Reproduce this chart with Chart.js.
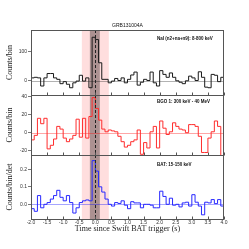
<!DOCTYPE html>
<html><head><meta charset="utf-8">
<script src="https://cdn.jsdelivr.net/npm/chart.js@4"></script>
<style>html,body{margin:0;padding:0;background:#fff}#wrap{width:249px;height:249px;position:relative}</style>
</head><body><div id="wrap"><canvas id="c" width="249" height="249"></canvas></div>
<script>
// ---- data ----
const binStart = -2.0;
const binWidth = 0.1;
const naiCounts = [10,12,10,-18,10,25,25,10,5,-10,-3,-12,-24,-7,-1,19,-1,10,-24,150,
  142,62,5,5,-7,-1,8,1,10,-7,5,20,30,-15,-5,5,1,30,-7,-18,
  35,22,12,27,12,0,-5,-10,0,16,10,1,31,12,-22,-24,22,19,-3,12];
const bgoCounts = [-8,-3,16,10,16,-18,-14,-7,7,4,-6,-10,-7,-3,15,-5,16,-6,18,39,
  27,14,4,1,3,2,1,-4,-10,-16,-14,-10,-8,3,-24,-11,-17,1,7,-17,
  13,5,-2,1,11,7,4,3,0,9,9,7,-4,-22,-22,-6,1,13,7,-26];
const batRate = [-0.025,-0.04,0.05,-0.02,0.0,0.01,0.03,0.05,0.08,0.04,
  0.02,0.05,0.01,-0.05,-0.02,0.01,0.02,0.025,0.02,0.25,
  0.19,0.1,0.07,0.03,0.0,-0.01,0.01,0.005,0.02,-0.005,
  -0.025,0.015,0.008,0.008,-0.02,0.0,0.0,-0.005,-0.02,-0.02,
  0.075,0.045,0.0,0.035,-0.005,0.0,-0.015,0.008,0.012,-0.01,
  0.055,0.012,-0.01,-0.06,0.012,0.008,0.027,0.004,0.027,-0.01];
const xTicks = [-2.0,-1.5,-1.0,-0.5,0.0,0.5,1.0,1.5,2.0,2.5,3.0,3.5,4.0];
const naiTicks = [0,100];
const bgoTicks = [-20,0,20,40];
const batTicks = [0.0,0.1,0.2];
const pinkWindow = [-0.42,0.42];
const darkWindow = [-0.17,0.14];
const titleText = 'GRB131004A';
const naiLabel = 'NaI (n2+na+n9): 8-800 keV';
const bgoLabel = 'BGO 1: 300 keV - 40 MeV';
const batLabel = 'BAT: 15-150 keV';

function stepPoints(vals){
  const pts = vals.map((v,i)=>({x: binStart + i*binWidth, y: v}));
  pts.push({x: binStart + vals.length*binWidth, y: vals[vals.length-1]});
  return pts;
}

const serif = "'Liberation Serif','DejaVu Serif',serif";
const sans = "'Liberation Sans','DejaVu Sans',sans-serif";

function yScale(min,max,weight,ticks,title,fmt){
  return {
    type:'linear', position:'left', stack:'v', stackWeight:weight, min:min, max:max,
    afterBuildTicks: s => { s.ticks = ticks.map(v=>({value:v})); },
    afterFit: s => { s.width = 31; s.paddingTop = 0; s.paddingBottom = 0; },
    grid:{display:true, drawOnChartArea:false, drawTicks:true, tickLength:3, color:'#555', lineWidth:0.8},
    border:{display:false},
    ticks:{font:{family:sans,size:5}, color:'#333', padding:1, callback: v => fmt(v)},
    title:{display:true, text:title, font:{family:serif,size:8}, color:'#222', padding:{top:5,bottom:0}}
  };
}

const decor = {
  id:'decor',
  beforeDatasetsDraw(chart){
    const ctx = chart.ctx, a = chart.chartArea, x = chart.scales.x;
    ctx.save();
    ctx.fillStyle = 'rgba(255,0,0,0.13)';
    let x0 = x.getPixelForValue(pinkWindow[0]), x1 = x.getPixelForValue(pinkWindow[1]);
    ctx.fillRect(x0, a.top, x1-x0, a.bottom-a.top);
    ctx.fillStyle = 'rgba(70,50,50,0.45)';
    x0 = x.getPixelForValue(darkWindow[0]); x1 = x.getPixelForValue(darkWindow[1]);
    ctx.fillRect(x0, a.top, x1-x0, a.bottom-a.top);
    const zl = [['yNaI','rgba(0,0,0,0.3)'],['yBGO','rgba(255,0,0,0.35)'],['yBAT','rgba(0,0,255,0.35)']];
    ctx.lineWidth = 1;
    zl.forEach(([id,c])=>{
      const s = chart.scales[id]; const y = Math.round(s.getPixelForValue(0))+0.5;
      ctx.strokeStyle = c; ctx.beginPath(); ctx.moveTo(a.left,y); ctx.lineTo(a.right,y); ctx.stroke();
    });
    ctx.restore();
  },
  afterDatasetsDraw(chart){
    const ctx = chart.ctx, a = chart.chartArea, x = chart.scales.x;
    ctx.save();
    ctx.strokeStyle = '#222'; ctx.lineWidth = 1; ctx.setLineDash([3,2]);
    const zx = Math.round(x.getPixelForValue(0))+0.5;
    ctx.beginPath(); ctx.moveTo(zx,a.top); ctx.lineTo(zx,a.bottom); ctx.stroke();
    ctx.setLineDash([]);
    ctx.strokeStyle = '#555'; ctx.lineWidth = 1;
    ['yNaI','yBGO','yBAT'].forEach(id=>{
      const s = chart.scales[id];
      ctx.strokeRect(Math.round(a.left)+0.5, Math.round(s.top)+0.5, Math.round(a.right-a.left)-1, Math.round(s.bottom-s.top));
      const yb = Math.round(s.bottom)+0.5;
      xTicks.forEach(t=>{
        const px = Math.round(x.getPixelForValue(t))+0.5;
        ctx.beginPath(); ctx.moveTo(px,yb); ctx.lineTo(px,yb-3); ctx.stroke();
      });
    });
    ctx.fillStyle = '#111';
    ctx.font = '5px ' + sans;
    ctx.textAlign = 'center'; ctx.textBaseline = 'middle';
    ctx.fillText(titleText, (a.left+a.right)/2, 26);
    ctx.textAlign = 'left';
    ctx.font = 'bold 4.5px ' + sans;
    ctx.fillText(naiLabel, 157, chart.scales.yNaI.top + 8.5);
    ctx.fillText(bgoLabel, 157, chart.scales.yBGO.top + 7);
    ctx.fillText(batLabel, 157, chart.scales.yBAT.top + 10);
    ctx.restore();
  }
};

new Chart(document.getElementById('c'), {
  type:'line',
  data:{datasets:[
    {label:'NaI', data:stepPoints(naiCounts), yAxisID:'yNaI', stepped:true, borderColor:'#1a1a1a', borderWidth:1, pointRadius:0, fill:false},
    {label:'BGO', data:stepPoints(bgoCounts), yAxisID:'yBGO', stepped:true, borderColor:'rgb(255,45,45)', borderWidth:1, pointRadius:0, fill:false},
    {label:'BAT', data:stepPoints(batRate), yAxisID:'yBAT', stepped:true, borderColor:'rgb(40,40,255)', borderWidth:1, pointRadius:0, fill:false}
  ]},
  options:{
    responsive:false, animation:false, devicePixelRatio:1,
    layout:{padding:{top:30,right:25,left:0,bottom:0}},
    plugins:{legend:{display:false}, tooltip:{enabled:false}, title:{display:false}},
    scales:{
      x:{type:'linear', position:'bottom', min:-2, max:4,
        afterBuildTicks: s => { s.ticks = xTicks.map(v=>({value:v})); },
        afterFit: s => { s.height = 30; },
        grid:{display:false, drawTicks:false}, border:{display:false},
        ticks:{font:{family:sans,size:5}, color:'#333', padding:1, maxRotation:0, autoSkip:false, callback:v=>Number(v).toFixed(1)},
        title:{display:true, text:'Time since Swift BAT trigger (s)', font:{family:serif,size:8}, color:'#222', padding:{top:0,bottom:15}}
      },
      yBAT: yScale(-0.084,0.282,64,batTicks,'Counts/bin/det', v=>Number(v).toFixed(1)),
      yBGO: yScale(-24.8,41.9,60,bgoTicks,'Counts/bin', v=>String(v)),
      yNaI: yScale(-49,175,65,naiTicks,'Counts/bin', v=>String(v))
    }
  },
  plugins:[decor]
});
</script>
</body></html>
